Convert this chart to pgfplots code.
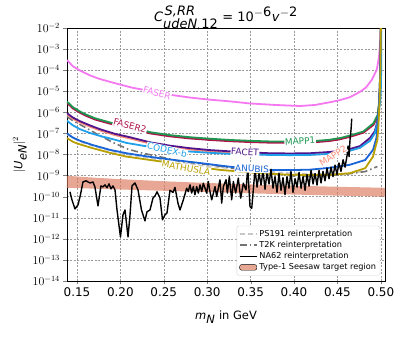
\documentclass[border=0pt]{standalone}
\usepackage{fontspec}
\setmainfont{DejaVu Sans}
\usepackage{pgfplots}
\usepackage{pgfplotstable}
\pgfplotsset{compat=1.18}

\definecolor{faserc}{RGB}{245,120,240}
\definecolor{faser2c}{RGB}{175,20,75}
\definecolor{mapp1c}{RGB}{30,150,80}
\definecolor{facetc}{RGB}{80,20,140}
\definecolor{mapp2c}{RGB}{250,140,120}
\definecolor{codexc}{RGB}{30,160,235}
\definecolor{anubisc}{RGB}{25,100,215}
\definecolor{mathc}{RGB}{185,160,0}
\definecolor{t2kc}{gray}{0.45}
\definecolor{ps191c}{gray}{0.78}
\definecolor{bandc}{RGB}{220,120,90}

% columns: m = HNL mass in GeV, l = log10 |U_eN|^2
\pgfplotstableread{
m l
0.1385 -3.52
0.1454 -3.82
0.1535 -4.02
0.1650 -4.25
0.1765 -4.42
0.1938 -4.62
0.2145 -4.84
0.2399 -5.03
0.2594 -5.18
0.2802 -5.30
0.3032 -5.40
0.3263 -5.48
0.3493 -5.58
0.3781 -5.65
0.4069 -5.70
0.4242 -5.65
0.4415 -5.52
0.4530 -5.42
0.4645 -5.28
0.4763 -5.02
0.4830 -4.82
0.4895 -4.46
0.4953 -3.99
0.4979 -3.36
0.4991 -2.73
0.4999 -2.10
0.5003 -1.50
}\faser

\pgfplotstableread{
m l
0.1385 -5.49
0.1454 -5.76
0.1535 -5.96
0.1590 -6.08
0.1707 -6.28
0.1880 -6.48
0.2110 -6.68
0.2340 -6.94
0.2570 -7.08
0.2800 -7.18
0.3030 -7.25
0.3260 -7.31
0.3490 -7.35
0.3720 -7.38
0.3950 -7.39
0.4180 -7.38
0.4410 -7.30
0.4530 -7.22
0.4645 -7.10
0.4798 -6.91
0.4914 -6.52
0.4964 -6.12
0.4979 -5.57
0.4987 -4.94
0.4995 -3.50
0.5001 -1.50
}\mappone

\pgfplotstableread{
m l
0.1385 -5.55
0.1454 -5.82
0.1535 -6.02
0.1590 -6.14
0.1707 -6.34
0.1880 -6.54
0.2110 -6.74
0.2340 -7.00
0.2570 -7.14
0.2800 -7.24
0.3030 -7.31
0.3260 -7.37
0.3490 -7.41
0.3720 -7.44
0.3950 -7.45
0.4180 -7.44
0.4410 -7.36
0.4530 -7.28
0.4645 -7.16
0.4798 -6.97
0.4914 -6.60
0.4964 -6.20
0.4979 -5.65
0.4987 -5.00
0.4995 -3.60
0.5001 -1.50
}\fasertwo

\pgfplotstableread{
m l
0.1385 -6.04
0.1454 -6.25
0.1535 -6.42
0.1650 -6.62
0.1765 -6.80
0.1938 -7.02
0.2110 -7.18
0.2340 -7.42
0.2570 -7.58
0.2800 -7.70
0.3030 -7.79
0.3260 -7.85
0.3490 -7.90
0.3720 -7.94
0.3950 -7.95
0.4180 -7.94
0.4410 -7.88
0.4610 -7.78
0.4760 -7.60
0.4876 -7.21
0.4930 -6.90
0.4956 -6.50
0.4975 -6.00
0.4990 -4.80
0.4998 -3.00
0.5002 -1.50
}\facet

\pgfplotstableread{
m l
0.1385 -6.10
0.1454 -6.31
0.1535 -6.48
0.1650 -6.68
0.1765 -6.86
0.1938 -7.08
0.2110 -7.24
0.2340 -7.48
0.2570 -7.64
0.2800 -7.76
0.3030 -7.85
0.3260 -7.92
0.3490 -7.97
0.3720 -8.01
0.3950 -8.02
0.4180 -8.01
0.4410 -7.95
0.4610 -7.85
0.4760 -7.67
0.4876 -7.29
0.4930 -6.98
0.4956 -6.58
0.4975 -6.08
0.4990 -4.90
0.4998 -3.10
0.5002 -1.50
}\mapptwo

\pgfplotstableread{
m l
0.1385 -6.40
0.1454 -6.62
0.1535 -6.80
0.1650 -6.98
0.1765 -7.12
0.1938 -7.30
0.2070 -7.45
0.2340 -7.64
0.2570 -7.78
0.2800 -7.86
0.3030 -7.92
0.3260 -7.97
0.3490 -8.00
0.3720 -8.02
0.3950 -8.03
0.4180 -8.02
0.4410 -7.97
0.4610 -7.86
0.4760 -7.68
0.4876 -7.35
0.4930 -7.00
0.4960 -6.50
0.4980 -5.90
0.4995 -5.40
0.5003 -4.50
0.5004 -1.00
}\codex

\pgfplotstableread{
m l
0.1385 -7.00
0.1454 -7.20
0.1535 -7.35
0.1680 -7.55
0.1880 -7.78
0.2070 -7.94
0.2290 -8.08
0.2460 -8.18
0.2700 -8.30
0.2950 -8.42
0.3260 -8.58
0.3490 -8.66
0.3720 -8.73
0.3950 -8.74
0.4180 -8.72
0.4410 -8.63
0.4640 -8.49
0.4820 -8.26
0.4910 -7.78
0.4950 -7.20
0.4975 -6.00
0.4990 -4.50
0.4998 -3.00
0.5002 -1.50
}\anubis

\pgfplotstableread{
m l
0.1385 -7.22
0.1454 -7.40
0.1535 -7.52
0.1680 -7.70
0.1880 -7.92
0.2070 -8.10
0.2460 -8.33
0.2800 -8.55
0.3150 -8.73
0.3610 -8.89
0.3950 -8.96
0.4180 -8.97
0.4410 -8.96
0.4640 -8.89
0.4820 -8.65
0.4910 -8.10
0.4960 -7.30
0.4970 -6.80
0.4985 -5.50
0.4995 -4.00
0.5002 -1.50
}\mathusla

\pgfplotstableread{
m l
0.1385 -6.20
0.1454 -6.40
0.1580 -6.68
0.1760 -7.10
0.1930 -7.46
0.2090 -7.75
0.2260 -7.94
0.2450 -8.10
0.2690 -8.33
0.3030 -8.49
0.3300 -8.65
0.3600 -8.85
0.4070 -9.05
0.4530 -8.97
0.4820 -8.81
0.4960 -8.57
}\tk

\pgfplotstableread{
m l
0.1385 -7.05
0.1535 -7.40
0.1760 -7.68
0.2000 -7.95
0.2300 -8.15
0.2600 -8.35
0.3000 -8.55
0.3500 -8.75
0.4000 -8.90
0.4500 -8.95
0.4800 -8.80
}\ps

\pgfplotstableread{
m l
0.1419 -9.77
0.1442 -10.15
0.1477 -10.58
0.1512 -10.39
0.1540 -9.91
0.1569 -9.30
0.1604 -9.25
0.1650 -9.35
0.1684 -9.30
0.1707 -9.54
0.1742 -10.44
0.1776 -9.49
0.1800 -9.54
0.1823 -9.44
0.1846 -9.58
0.1869 -9.39
0.1892 -9.63
0.1915 -9.49
0.1938 -9.68
0.1961 -10.63
0.2001 -11.91
0.2030 -10.86
0.2053 -10.63
0.2088 -11.91
0.2111 -10.86
0.2134 -9.49
0.2168 -9.35
0.2203 -9.68
0.2243 -10.63
0.2283 -11.15
0.2306 -10.72
0.2341 -10.63
0.2376 -10.06
0.2399 -9.96
0.2422 -9.77
0.2456 -10.06
0.2485 -11.10
0.2514 -10.86
0.2537 -10.77
0.2571 -9.70
0.2606 -9.80
0.2629 -9.56
0.2664 -10.32
0.2687 -10.63
0.2725 -10.15
0.2764 -9.60
0.2782 -9.76
0.2802 -9.44
0.2821 -9.83
0.2840 -9.52
0.2859 -9.91
0.2879 -9.52
0.2898 -9.83
0.2917 -9.44
0.2937 -9.76
0.2955 -9.36
0.2994 -9.83
0.3013 -9.28
0.3032 -9.76
0.3052 -10.15
0.3090 -9.52
0.3109 -9.99
0.3147 -9.20
0.3167 -10.31
0.3186 -9.52
0.3217 -9.20
0.3232 -9.83
0.3255 -9.05
0.3282 -10.15
0.3301 -9.28
0.3328 -9.83
0.3358 -9.12
0.3386 -10.07
0.3416 -9.36
0.3447 -9.68
0.3467 -8.63
0.3493 -10.47
0.3513 -10.55
0.3531 -9.68
0.3551 -8.70
0.3574 -9.55
0.3597 -8.90
0.3620 -9.45
0.3643 -8.75
0.3666 -9.65
0.3689 -8.85
0.3712 -9.40
0.3735 -8.70
0.3758 -9.60
0.3781 -9.05
0.3804 -9.80
0.3827 -8.90
0.3850 -9.70
0.3873 -9.10
0.3896 -9.90
0.3919 -9.05
0.3942 -9.60
0.3965 -8.80
0.3988 -9.80
0.4012 -9.15
0.4035 -9.55
0.4058 -8.85
0.4081 -9.60
0.4104 -9.05
0.4127 -9.70
0.4150 -8.95
0.4173 -9.50
0.4196 -8.75
0.4219 -9.40
0.4242 -8.90
0.4265 -9.45
0.4288 -8.75
0.4311 -9.35
0.4334 -8.80
0.4357 -9.25
0.4380 -8.65
0.4403 -9.15
0.4426 -8.60
0.4449 -9.05
0.4472 -8.50
0.4495 -8.95
0.4518 -8.40
0.4541 -8.80
0.4565 -8.25
0.4588 -8.60
0.4611 -8.05
0.4622 -7.60
0.4634 -8.10
0.4645 -7.30
0.4657 -6.80
0.4665 -6.30
}\nasix

% seesaw band: upper edge left to right, then lower edge right to left
\pgfplotstableread{
m l
0.1385 -9.01
0.1700 -9.10
0.2000 -9.17
0.2500 -9.27
0.3000 -9.35
0.3500 -9.42
0.4000 -9.48
0.4500 -9.53
0.5048 -9.58
0.5048 -10.00
0.4500 -9.95
0.4000 -9.90
0.3500 -9.84
0.3000 -9.78
0.2500 -9.72
0.2000 -9.66
0.1700 -9.62
0.1385 -9.58
}\band

\begin{document}
\begin{tikzpicture}
\begin{axis}[
  at={(0,0)}, anchor=south west,
  scale only axis, width=318bp, height=253bp,
  xmin=0.1385, xmax=0.5048,
  ymode=log, log basis y=10, ymin=1e-14, ymax=1e-2,
  ytickten={-14,-13,-12,-11,-10,-9,-8,-7,-6,-5,-4,-3,-2},
  xtick={0.15,0.20,0.25,0.30,0.35,0.40,0.45,0.50},
  xticklabel style={/pgf/number format/.cd, fixed, fixed zerofill, precision=2},
  /pgf/number format/assume math mode=true,
  tick label style={font=\fontsize{12}{13}\selectfont},
  label style={font=\fontsize{11.5}{13}\selectfont},
  every axis title/.style={at={(0.5,1)}, anchor=base, yshift=7bp,
    font=\fontsize{13}{15}\selectfont},
  title={\textit{C}$^{\,\textit{S,RR}}_{\textit{udeN},\,\textup{12}}$ = 10$^{\textup{$-$6}}$\textit{v}$^{\textup{$-$2}}$},
  xlabel={\textit{m}$_{\textit{N}}$ in GeV},
  ylabel={$|\textit{U}_{\textit{eN}}|^2$},
  xlabel style={yshift=-7bp},
  ylabel style={yshift=-1bp},
  xtick pos=bottom, ytick pos=left, tick align=outside,
  major tick length=3.5bp, minor tick length=2bp,
  xmajorgrids, ymajorgrids, yminorgrids,
  major grid style={gray!80, dash pattern=on 2bp off 1.5bp, line width=0.5pt},
  minor grid style={gray!15, line width=0.4pt},
  axis line style={line width=0.8pt},
  legend style={at={(0.985,0.022)}, anchor=south east,
    font=\fontsize{8.2}{9.5}\selectfont, draw=gray!35, rounded corners=2pt,
    fill=white, inner sep=2pt, row sep=-0.5pt},
  legend cell align=left,
  every axis plot/.append style={forget plot},
]

\addplot[fill=bandc, fill opacity=0.65, draw=none] table[x=m, y expr=10^(\thisrow{l})] {\band} -- cycle;

\addplot[ps191c, line width=1.6pt, dash pattern=on 5bp off 3bp] table[x=m, y expr=10^(\thisrow{l})] {\ps};
\addplot[t2kc, line width=1.6pt, dash pattern=on 7bp off 3bp on 1.5bp off 3bp] table[x=m, y expr=10^(\thisrow{l})] {\tk};

\addplot[faserc, line width=1.8pt] table[x=m, y expr=10^(\thisrow{l})] {\faser};
\addplot[faser2c, line width=1.8pt] table[x=m, y expr=10^(\thisrow{l})] {\fasertwo};
\addplot[mapp1c, line width=1.8pt] table[x=m, y expr=10^(\thisrow{l})] {\mappone};
\addplot[mapp2c, line width=1.8pt] table[x=m, y expr=10^(\thisrow{l})] {\mapptwo};
\addplot[facetc, line width=1.8pt] table[x=m, y expr=10^(\thisrow{l})] {\facet};
\addplot[codexc, line width=1.8pt] table[x=m, y expr=10^(\thisrow{l})] {\codex};
\addplot[anubisc, line width=1.8pt] table[x=m, y expr=10^(\thisrow{l})] {\anubis};
\addplot[mathc, line width=1.8pt] table[x=m, y expr=10^(\thisrow{l})] {\mathusla};

\addplot[black, line width=1.4pt, line join=round] table[x=m, y expr=10^(\thisrow{l})] {\nasix};

\tikzset{lbl/.style={fill=white, inner sep=0.6pt, font=\fontsize{9}{9}\selectfont}}
\node[lbl, text=faserc, rotate=-15] at (axis cs:0.2422,8.3e-6) {FASER};
\node[lbl, text=faser2c, rotate=-15] at (axis cs:0.2110,2.3e-7) {FASER2};
\node[lbl, text=codexc, rotate=-12] at (axis cs:0.2537,1.66e-8) {CODEX-b};
\node[lbl, text=mathc, rotate=-10] at (axis cs:0.2756,2.34e-9) {MATHUSLA};
\node[lbl, text=facetc, rotate=-3] at (axis cs:0.3435,1.32e-8) {FACET};
\node[lbl, text=anubisc, rotate=-2] at (axis cs:0.3516,2.09e-9) {ANUBIS};
\node[lbl, text=mapp1c, rotate=3] at (axis cs:0.4070,4.37e-8) {MAPP1};
\node[lbl, text=mapp2c, rotate=32] at (axis cs:0.4449,8.5e-9) {MAPP2};

\addlegendimage{ps191c, line width=1.6pt, dash pattern=on 5bp off 3bp}
\addlegendentry{PS191 reinterpretation}
\addlegendimage{t2kc, line width=1.6pt, dash pattern=on 7bp off 3bp on 1.5bp off 3bp}
\addlegendentry{T2K reinterpretation}
\addlegendimage{black, line width=1.4pt}
\addlegendentry{NA62 reinterpretation}
\addlegendimage{area legend, fill=bandc, fill opacity=0.65, draw=none}
\addlegendentry{Type-1 Seesaw target region}
\end{axis}
\pgfresetboundingbox
\path[use as bounding box] (-67bp,-56bp) rectangle (340bp,281bp);
\end{tikzpicture}
\end{document}
